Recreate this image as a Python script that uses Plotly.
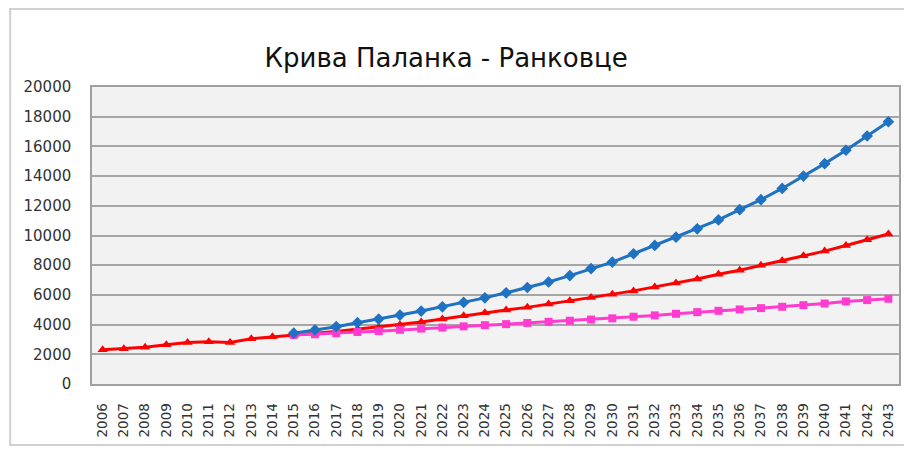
import plotly.graph_objects as go

years = [str(y) for y in range(2006, 2044)]

red_vals = [2300, 2380, 2480, 2650, 2800, 2850, 2800, 3050, 3190, 3300,
            3420, 3530, 3680, 3820, 3990, 4170, 4370, 4590, 4800, 4980,
            5160, 5380, 5600, 5830, 6050, 6270, 6540, 6800, 7070, 7390,
            7660, 7990, 8300, 8640, 8950, 9330, 9710, 10100]

blue_vals = [None] * 9 + [3420, 3640, 3860, 4130, 4370, 4640, 4910, 5200, 5490,
                          5800, 6140, 6500, 6870, 7300, 7770, 8210, 8770, 9330,
                          9890, 10450, 11050, 11740, 12410, 13170, 14000, 14840,
                          15740, 16700, 17660]

pink_vals = [None] * 9 + [3300, 3350, 3420, 3500, 3560, 3650, 3730, 3800, 3880,
                          3960, 4030, 4110, 4190, 4260, 4340, 4420, 4530, 4620,
                          4730, 4840, 4930, 5020, 5110, 5200, 5310, 5420, 5560,
                          5650, 5740]

title_text = "Крива Паланка - Ранковце"
y_ticks = list(range(0, 20001, 2000))

fig = go.Figure()
fig.add_trace(go.Scatter(x=years, y=red_vals, mode="lines+markers",
                         line=dict(color="#FF0000", width=3),
                         marker=dict(symbol="triangle-up", size=9, color="#FF0000"),
                         showlegend=False))
fig.add_trace(go.Scatter(x=years, y=pink_vals, mode="lines+markers",
                         line=dict(color="#FF3CCF", width=3),
                         marker=dict(symbol="square", size=8, color="#FF3CCF"),
                         showlegend=False))
fig.add_trace(go.Scatter(x=years, y=blue_vals, mode="lines+markers",
                         line=dict(color="#1F72C2", width=3),
                         marker=dict(symbol="diamond", size=9, color="#1F72C2"),
                         showlegend=False))

fig.update_layout(
    width=896, height=439,
    margin=dict(l=84, r=3, t=79, b=63),
    paper_bgcolor="white",
    plot_bgcolor="#F2F2F2",
    title=dict(text=title_text, x=0.489, xanchor="center", y=0.886, yanchor="middle",
               font=dict(family="DejaVu Sans, sans-serif", size=26, color="#111111")),
    xaxis=dict(type="category", tickangle=-90, showgrid=False, range=[-0.5, 37.5],
               tickfont=dict(family="DejaVu Sans, sans-serif", size=13.5, color="#333333"),
               showline=True, linecolor="#A0A0A0", linewidth=1.5, mirror=True,
               ticks="", ticklen=0, ticklabelstandoff=12),
    yaxis=dict(range=[0, 20000], tickvals=y_ticks, tickformat="d", showgrid=True,
               gridcolor="#A6A6A6", gridwidth=1.5, zeroline=False,
               tickfont=dict(family="DejaVu Sans, sans-serif", size=15, color="#333333"),
               showline=True, linecolor="#A0A0A0", linewidth=1.5, mirror=True,
               ticks="", ticklen=0, ticklabelstandoff=16),
    shapes=[dict(type="rect", xref="paper", yref="paper",
                 x0=-0.1014, x1=1.2, y0=-0.205, y1=1.2626,
                 line=dict(color="#D0D0D0", width=2), layer="below")],
)

fig.write_html("out.html")
